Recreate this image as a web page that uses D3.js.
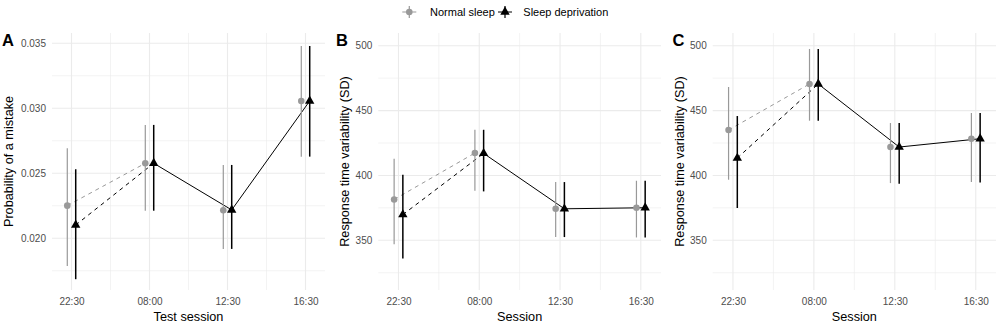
<!DOCTYPE html>
<html>
<head>
<meta charset="utf-8">
<script src="https://cdn.jsdelivr.net/npm/d3@7"></script>
<style>
  body { margin: 0; background: #fff; }
  svg { font-family: "Liberation Sans", Arial, sans-serif; }
</style>
</head>
<body>
<svg id="chart"></svg>
<script>
// categories
const sessions = ["22:30", "08:00", "12:30", "16:30"];
const groups = ["Normal sleep", "Sleep deprivation"];

// panel A: probability of a mistake
const mistakeNormal   = [0.02251, 0.02577, 0.02215, 0.03056];
const mistakeNormalLo = [0.01787, 0.02212, 0.01918, 0.02628];
const mistakeNormalHi = [0.02692, 0.02872, 0.02564, 0.03479];
const mistakeSD       = [0.02102, 0.02577, 0.02218, 0.03056];
const mistakeSDLo     = [0.01685, 0.02212, 0.01918, 0.02628];
const mistakeSDHi     = [0.02531, 0.02872, 0.02564, 0.03479];

// panel B: response time variability
const rtvNormalB   = [381.5, 417.3, 374.3, 375.1];
const rtvNormalBLo = [347.0, 388.2, 352.5, 352.2];
const rtvNormalBHi = [412.8, 435.2, 394.9, 395.9];
const rtvSDB       = [369.8, 417.0, 374.3, 375.1];
const rtvSDBLo     = [336.0, 387.7, 352.5, 352.2];
const rtvSDBHi     = [400.5, 435.2, 394.9, 395.9];

// panel C: response time variability
const rtvNormalC   = [435.0, 470.5, 421.9, 428.3];
const rtvNormalCLo = [396.7, 442.2, 394.1, 394.9];
const rtvNormalCHi = [468.2, 497.5, 440.4, 448.1];
const rtvSDC       = [413.4, 470.5, 421.9, 428.3];
const rtvSDCLo     = [374.9, 442.2, 393.6, 394.6];
const rtvSDCHi     = [445.8, 497.5, 440.4, 448.1];

// tick labels
const ticksA = [0.020, 0.025, 0.030, 0.035];
const ticksRT = [350, 400, 450, 500];

const width = 1000, height = 323;
const plotTop = 33, plotBottom = 290;
const grey = "#999999";

const svg = d3.select("#chart")
    .attr("width", width)
    .attr("height", height);

function series(mean, lo, hi) {
    return sessions.map((s, i) => ({session: s, mean: mean[i], lo: lo[i], hi: hi[i]}));
}

const panels = [
    {label: "A", left: 52, right: 325, yDomain: [0.01602, 0.03579], ticks: ticksA, fmt: d3.format(".3f"),
     ytitle: "Probability of a mistake", xtitle: "Test session", labelX: 2, titleX: 13,
     normal: series(mistakeNormal, mistakeNormalLo, mistakeNormalHi),
     sd: series(mistakeSD, mistakeSDLo, mistakeSDHi)},
    {label: "B", left: 378.3, right: 661, yDomain: [311.7, 509.8], ticks: ticksRT, fmt: d3.format("d"),
     ytitle: "Response time variability (SD)", xtitle: "Session", labelX: 336, titleX: 348.5,
     normal: series(rtvNormalB, rtvNormalBLo, rtvNormalBHi),
     sd: series(rtvSDB, rtvSDBLo, rtvSDBHi)},
    {label: "C", left: 712.7, right: 996, yDomain: [311.7, 509.8], ticks: ticksRT, fmt: d3.format("d"),
     ytitle: "Response time variability (SD)", xtitle: "Session", labelX: 672.5, titleX: 683.5,
     normal: series(rtvNormalC, rtvNormalCLo, rtvNormalCHi),
     sd: series(rtvSDC, rtvSDCLo, rtvSDCHi)}
];

const circle = d3.symbol().type(d3.symbolCircle).size(34);
const triangle = d3.symbol().type(d3.symbolTriangle).size(38);

panels.forEach(p => {
    const g = svg.append("g");

    const x = d3.scalePoint()
        .domain(sessions)
        .range([p.left, p.right])
        .padding(0.25);
    const dodge = x.step() * 0.054;

    const y = d3.scaleLinear()
        .domain(p.yDomain)
        .range([plotBottom, plotTop]);

    // minor grid
    const majorStep = p.ticks[1] - p.ticks[0];
    const yMinor = p.ticks.map(t => t - majorStep / 2).concat([p.ticks[p.ticks.length - 1] + majorStep / 2])
        .filter(v => v > p.yDomain[0] && v < p.yDomain[1]);
    const xMinor = d3.pairs(sessions).map(([a, b]) => (x(a) + x(b)) / 2);

    g.selectAll(".yminor").data(yMinor).enter().append("line")
        .attr("x1", p.left).attr("x2", p.right)
        .attr("y1", d => y(d)).attr("y2", d => y(d))
        .attr("stroke", "#ebebeb").attr("stroke-width", 0.6);
    g.selectAll(".xminor").data(xMinor).enter().append("line")
        .attr("x1", d => d).attr("x2", d => d)
        .attr("y1", plotTop).attr("y2", plotBottom)
        .attr("stroke", "#ebebeb").attr("stroke-width", 0.6);

    // major grid
    g.selectAll(".ymajor").data(p.ticks).enter().append("line")
        .attr("x1", p.left).attr("x2", p.right)
        .attr("y1", d => y(d)).attr("y2", d => y(d))
        .attr("stroke", "#ebebeb").attr("stroke-width", 1.1);
    g.selectAll(".xmajor").data(sessions).enter().append("line")
        .attr("x1", d => x(d)).attr("x2", d => x(d))
        .attr("y1", plotTop).attr("y2", plotBottom)
        .attr("stroke", "#ebebeb").attr("stroke-width", 1.1);

    // axes
    const yAxis = d3.axisLeft(y).tickValues(p.ticks).tickFormat(p.fmt).tickSize(0).tickPadding(6);
    g.append("g")
        .attr("transform", `translate(${p.left},0)`)
        .call(yAxis)
        .call(a => a.select(".domain").remove())
        .selectAll("text")
        .attr("fill", "#4d4d4d")
        .style("font-size", "10px")
        .style("font-family", "Liberation Sans, Arial, sans-serif");

    const xAxis = d3.axisBottom(x).tickSize(0).tickPadding(8);
    g.append("g")
        .attr("transform", `translate(0,${plotBottom})`)
        .call(xAxis)
        .call(a => a.select(".domain").remove())
        .selectAll("text")
        .attr("fill", "#4d4d4d")
        .style("font-size", "10px")
        .style("font-family", "Liberation Sans, Arial, sans-serif");

    // titles
    g.append("text")
        .attr("x", (p.left + p.right) / 2)
        .attr("y", 321)
        .attr("text-anchor", "middle")
        .style("font-size", "12.7px")
        .text(p.xtitle);
    g.append("text")
        .attr("transform", `translate(${p.titleX},${(plotTop + plotBottom) / 2}) rotate(-90)`)
        .attr("text-anchor", "middle")
        .style("font-size", "12.7px")
        .text(p.ytitle);
    g.append("text")
        .attr("x", p.labelX)
        .attr("y", 46)
        .style("font-size", "16.5px")
        .style("font-weight", "bold")
        .text(p.label);

    // lines: dashed for the first interval, solid afterwards
    const lineN = d3.line().x(d => x(d.session) - dodge).y(d => y(d.mean));
    const lineS = d3.line().x(d => x(d.session) + dodge).y(d => y(d.mean));

    g.append("path")
        .attr("d", lineN(p.normal.slice(0, 2)))
        .attr("fill", "none").attr("stroke", grey).attr("stroke-width", 1)
        .attr("stroke-dasharray", "4,4");
    g.append("path")
        .attr("d", lineS(p.sd.slice(0, 2)))
        .attr("fill", "none").attr("stroke", "#000").attr("stroke-width", 1)
        .attr("stroke-dasharray", "4,4");
    g.append("path")
        .attr("d", lineS(p.sd.slice(1)))
        .attr("fill", "none").attr("stroke", "#000").attr("stroke-width", 1);

    // error bars
    g.selectAll(".barN").data(p.normal).enter().append("line")
        .attr("x1", d => x(d.session) - dodge).attr("x2", d => x(d.session) - dodge)
        .attr("y1", d => y(d.lo)).attr("y2", d => y(d.hi))
        .attr("stroke", grey).attr("stroke-width", 1.2);
    g.selectAll(".barS").data(p.sd).enter().append("line")
        .attr("x1", d => x(d.session) + dodge).attr("x2", d => x(d.session) + dodge)
        .attr("y1", d => y(d.lo)).attr("y2", d => y(d.hi))
        .attr("stroke", "#000").attr("stroke-width", 1.5);

    // points
    g.selectAll(".ptN").data(p.normal).enter().append("path")
        .attr("d", circle)
        .attr("transform", d => `translate(${x(d.session) - dodge},${y(d.mean)})`)
        .attr("fill", grey);
    g.selectAll(".ptS").data(p.sd).enter().append("path")
        .attr("d", triangle)
        .attr("transform", d => `translate(${x(d.session) + dodge},${y(d.mean)})`)
        .attr("fill", "#000");
});

// legend
const legend = svg.append("g");
const legendItems = [
    {name: groups[0], key: 409.3, text: 430, color: grey, shape: circle},
    {name: groups[1], key: 505, text: 523.3, color: "#000", shape: triangle}
];
legendItems.forEach(it => {
    legend.append("line")
        .attr("x1", it.key - 7).attr("x2", it.key + 7)
        .attr("y1", 12).attr("y2", 12)
        .attr("stroke", it.color).attr("stroke-width", 1);
    legend.append("line")
        .attr("x1", it.key).attr("x2", it.key)
        .attr("y1", 6).attr("y2", 18)
        .attr("stroke", it.color).attr("stroke-width", 1.2);
    legend.append("path")
        .attr("d", it.shape)
        .attr("transform", `translate(${it.key},12)`)
        .attr("fill", it.color);
    legend.append("text")
        .attr("x", it.text)
        .attr("y", 16)
        .style("font-size", "11px")
        .text(it.name);
});
</script>
</body>
</html>
